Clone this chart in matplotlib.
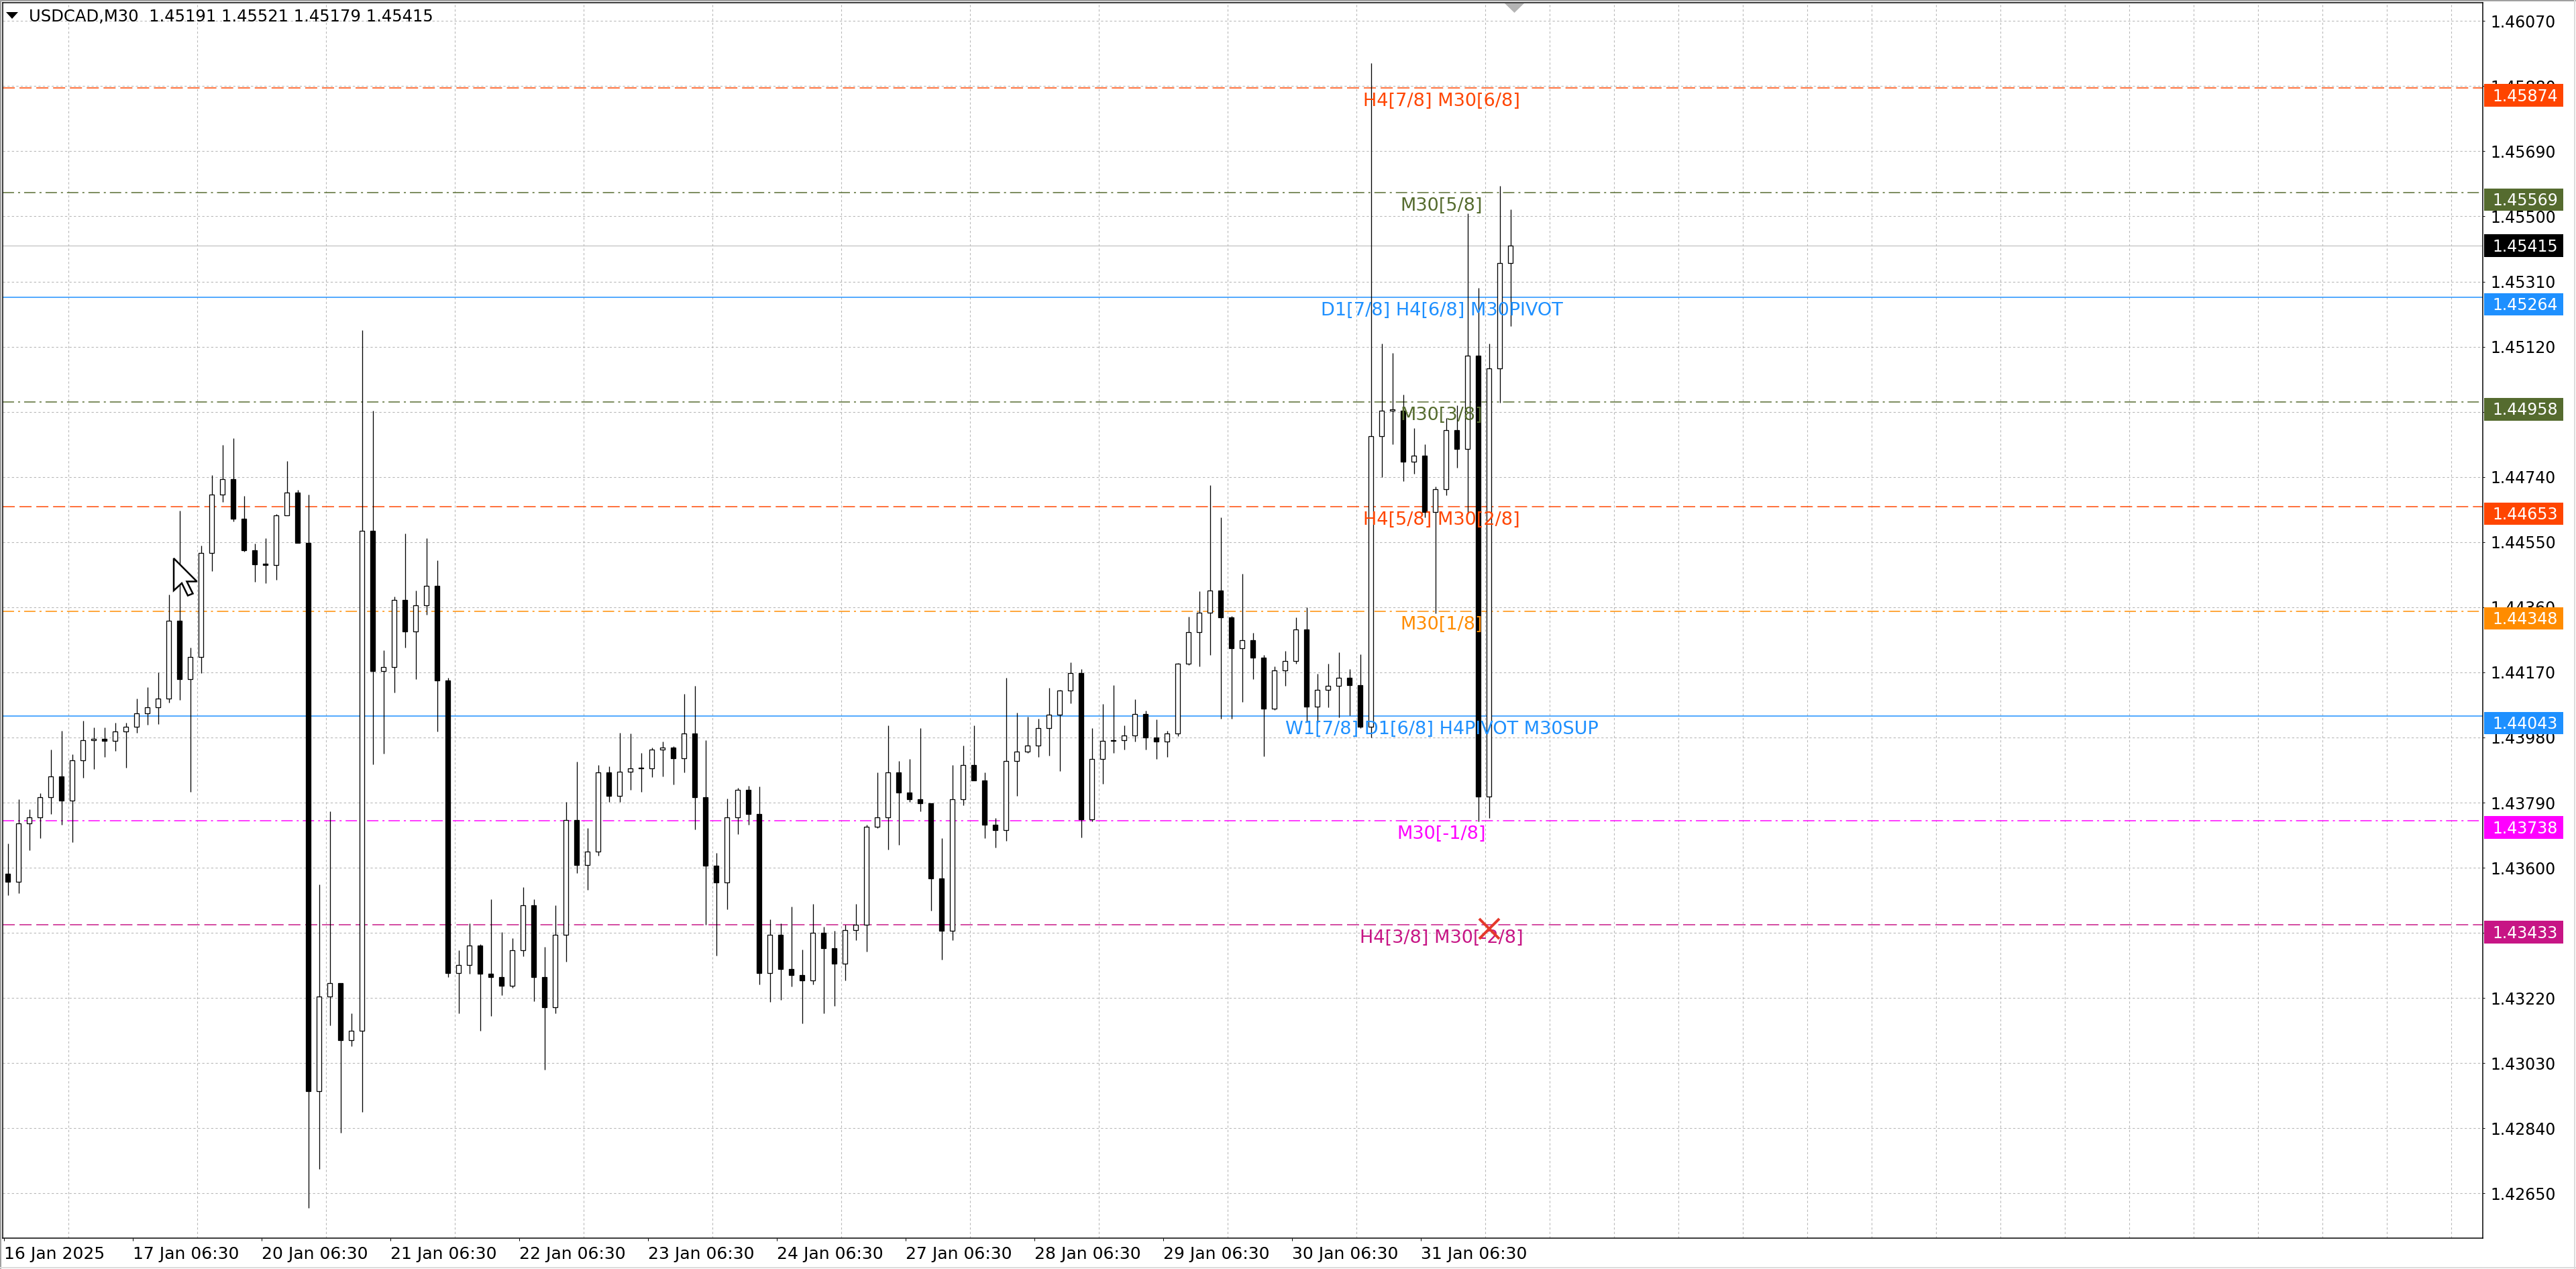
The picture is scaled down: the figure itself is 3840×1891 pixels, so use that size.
import matplotlib
matplotlib.use("Agg")
import matplotlib.pyplot as plt
import matplotlib.transforms as mtransforms
from matplotlib.patches import Rectangle, Polygon
from matplotlib.lines import Line2D

# =========================
# 1. ファイル設定
# =========================
output_file = "out.png"

plt.rcParams["font.family"] = ["DejaVu Sans"]

# =========================
# 2. データ（M30 足を 4 本ずつまとめた 2 時間足）
# =========================
symbol = "USDCAD,M30"
last_bar_ohlc = [1.45191, 1.45521, 1.45179, 1.45415]  # 最終足の O H L C
bid_price = 1.45415

first_open = 1.43583

highs = [
    1.43670, 1.43800, 1.43770, 1.43818, 1.43945, 1.43999, 1.43932, 1.44028, 1.44009, 1.44010,
    1.44024, 1.44024, 1.44094, 1.44126, 1.44170, 1.44396, 1.44641, 1.44243, 1.44540, 1.44746,
    1.44834, 1.44853, 1.44685, 1.44545, 1.44562, 1.44632, 1.44786, 1.44702, 1.44688, 1.43552,
    1.43765, 1.43264, 1.43176, 1.45169, 1.44933, 1.44234, 1.44391, 1.44575, 1.44409, 1.44561,
    1.44496, 1.44155, 1.43360, 1.43438, 1.43377, 1.43508, 1.43412, 1.43395, 1.43543, 1.43508,
    1.43369, 1.43491, 1.43793, 1.43909, 1.43715, 1.43900, 1.43895, 1.43994, 1.43991, 1.43934,
    1.43951, 1.43968, 1.43954, 1.44108, 1.44131, 1.43972, 1.43644, 1.43801, 1.43833, 1.43840,
    1.43838, 1.43450, 1.43437, 1.43486, 1.43361, 1.43495, 1.43428, 1.43417, 1.43434, 1.43495,
    1.43726, 1.43878, 1.44015, 1.43911, 1.43917, 1.44007, 1.43788, 1.43687, 1.43900, 1.43956,
    1.44015, 1.43878, 1.43745, 1.44155, 1.44052, 1.44041, 1.44035, 1.44125, 1.44119, 1.44200,
    1.44179, 1.44007, 1.44078, 1.44133, 1.44015, 1.44091, 1.44058, 1.44032, 1.43999, 1.44198,
    1.44333, 1.44406, 1.44716, 1.44622, 1.44335, 1.44457, 1.44285, 1.44220, 1.44188, 1.44233,
    1.44330, 1.44360, 1.44165, 1.44195, 1.44229, 1.44180, 1.44223, 1.45947, 1.45129, 1.45102,
    1.44981, 1.44883, 1.44836, 1.44713, 1.44912, 1.44948, 1.45509, 1.45292, 1.45129, 1.45590,
    1.45521,
]

lows = [
    1.43520, 1.43525, 1.43652, 1.43687, 1.43757, 1.43726, 1.43674, 1.43862, 1.43888, 1.43923,
    1.43941, 1.43892, 1.43993, 1.44018, 1.44019, 1.44081, 1.44090, 1.43822, 1.44168, 1.44466,
    1.44667, 1.44610, 1.44523, 1.44435, 1.44431, 1.44440, 1.44628, 1.44548, 1.42608, 1.42722,
    1.43141, 1.42827, 1.43080, 1.42888, 1.43902, 1.43933, 1.44111, 1.44243, 1.44150, 1.44339,
    1.43998, 1.43281, 1.43176, 1.43290, 1.43124, 1.43167, 1.43229, 1.43250, 1.43342, 1.43211,
    1.43011, 1.43176, 1.43327, 1.43585, 1.43535, 1.43636, 1.43793, 1.43793, 1.43827, 1.43821,
    1.43864, 1.43866, 1.43842, 1.43878, 1.43711, 1.43434, 1.43344, 1.43479, 1.43698, 1.43726,
    1.43259, 1.43209, 1.43214, 1.43254, 1.43147, 1.43259, 1.43175, 1.43197, 1.43271, 1.43389,
    1.43355, 1.43715, 1.43653, 1.43666, 1.43793, 1.43765, 1.43475, 1.43332, 1.43389, 1.43782,
    1.43855, 1.43687, 1.43658, 1.43678, 1.43810, 1.43934, 1.43923, 1.43928, 1.43883, 1.44080,
    1.43689, 1.43735, 1.43844, 1.43934, 1.43945, 1.43968, 1.43945, 1.43917, 1.43923, 1.43984,
    1.44192, 1.44187, 1.44221, 1.44034, 1.44034, 1.44083, 1.44150, 1.43925, 1.44060, 1.44131,
    1.44195, 1.44026, 1.44023, 1.44068, 1.44038, 1.44045, 1.44008, 1.43980, 1.44740, 1.44836,
    1.44727, 1.44749, 1.44622, 1.44342, 1.44686, 1.44767, 1.44631, 1.43736, 1.43745, 1.44957,
    1.45179,
]

closes = [
    1.43560, 1.43730, 1.43748, 1.43805, 1.43866, 1.43796, 1.43914, 1.43972, 1.43976, 1.43971,
    1.43997, 1.44012, 1.44050, 1.44068, 1.44094, 1.44321, 1.44151, 1.44214, 1.44518, 1.44689,
    1.44733, 1.44619, 1.44527, 1.44485, 1.44484, 1.44628, 1.44694, 1.44548, 1.42949, 1.43224,
    1.43264, 1.43098, 1.43124, 1.44583, 1.44173, 1.44185, 1.44382, 1.44290, 1.44365, 1.44423,
    1.44146, 1.43293, 1.43316, 1.43374, 1.43290, 1.43281, 1.43255, 1.43360, 1.43491, 1.43281,
    1.43194, 1.43404, 1.43740, 1.43608, 1.43647, 1.43878, 1.43810, 1.43880, 1.43889, 1.43889,
    1.43945, 1.43951, 1.43920, 1.43992, 1.43805, 1.43606, 1.43557, 1.43748, 1.43827, 1.43756,
    1.43293, 1.43405, 1.43304, 1.43287, 1.43271, 1.43411, 1.43366, 1.43321, 1.43419, 1.43434,
    1.43720, 1.43748, 1.43878, 1.43819, 1.43799, 1.43788, 1.43568, 1.43417, 1.43799, 1.43900,
    1.43855, 1.43726, 1.43709, 1.43911, 1.43939, 1.43956, 1.44007, 1.44046, 1.44117, 1.44167,
    1.43742, 1.43917, 1.43970, 1.43973, 1.43985, 1.44049, 1.43979, 1.43968, 1.43992, 1.44195,
    1.44288, 1.44344, 1.44409, 1.44330, 1.44240, 1.44263, 1.44212, 1.44064, 1.44176, 1.44203,
    1.44295, 1.44071, 1.44118, 1.44131, 1.44154, 1.44133, 1.44011, 1.44858, 1.44934, 1.44934,
    1.44785, 1.44803, 1.44637, 1.44704, 1.44876, 1.44821, 1.45093, 1.43808, 1.45057, 1.45364,
    1.45415,
]

# 時間軸ラベル（M30 足の番号）
x_tick_bars = [0, 48, 96, 144, 192, 240, 288, 336, 384, 432, 480, 528]
x_tick_labels = [
    "16 Jan 2025", "17 Jan 06:30", "20 Jan 06:30", "21 Jan 06:30",
    "22 Jan 06:30", "23 Jan 06:30", "24 Jan 06:30", "27 Jan 06:30",
    "28 Jan 06:30", "29 Jan 06:30", "30 Jan 06:30", "31 Jan 06:30",
]

y_ticks = [
    1.42650, 1.42840, 1.43030, 1.43220, 1.43410, 1.43600, 1.43790,
    1.43980, 1.44170, 1.44360, 1.44550, 1.44740, 1.44930, 1.45120,
    1.45310, 1.45500, 1.45690, 1.45880, 1.46070,
]

# Murrey 系のレベル
level_prices = [1.45874, 1.45569, 1.45264, 1.44958, 1.44653,
                1.44348, 1.44043, 1.43738, 1.43433]
level_names = [
    "H4[7/8] M30[6/8]", "M30[5/8]", "D1[7/8] H4[6/8] M30PIVOT",
    "M30[3/8]", "H4[5/8] M30[2/8]", "M30[1/8]",
    "W1[7/8] D1[6/8] H4PIVOT M30SUP", "M30[-1/8]", "H4[3/8] M30[-2/8]",
]
level_colors = ["#FF4500", "#556B2F", "#1E90FF", "#556B2F", "#FF4500",
                "#FF8C00", "#1E90FF", "#FF00FF", "#C71585"]
level_kinds = ["dash", "dashdot", "solid", "dashdot", "dash",
               "dashdot", "solid", "dashdot", "dash"]

# =========================
# 3. レイアウト（ピクセル基準）
# =========================
W, H = 3840, 1891
DPI = 100
PX = 72 / DPI            # 1px をポイントに変換

ax_l, ax_r, ax_t, ax_b = 4, 3701, 4, 1845
price_per_px = 1.9575e-5  # 縦 1px あたりの価格
ref_price, ref_y = 1.46070, 31.3
bar_px, bar0_px = 4.0, 5.7
bars_per_block = 4

y_top = ref_price + (ref_y - ax_t) * price_per_px
y_bottom = ref_price - (ax_b - ref_y) * price_per_px
x_left = (ax_l - bar0_px) / bar_px
x_right = (ax_r - bar0_px) / bar_px

fig = plt.figure(figsize=(W / DPI, H / DPI), dpi=DPI, facecolor="white")
ax = fig.add_axes([ax_l / W, 1 - ax_b / H, (ax_r - ax_l) / W, (ax_b - ax_t) / H])
ax.set_xlim(x_left, x_right)
ax.set_ylim(y_bottom, y_top)

# =========================
# 4. グリッドと軸
# =========================
grid_style = dict(color="#B8B8B8", linestyle=(0, (3, 3)), linewidth=1.1 * PX)
ax.set_axisbelow(True)
ax.set_yticks(y_ticks)
ax.set_yticklabels([f"{t:.5f}" for t in y_ticks])
ax.yaxis.tick_right()
ax.set_xticks(x_tick_bars)
ax.set_xticklabels(x_tick_labels)
for lab in ax.get_xticklabels():
    lab.set_horizontalalignment("left")
ax.set_xticks(list(range(0, 913, 24)), minor=True)
ax.grid(which="major", axis="y", **grid_style)
ax.grid(which="minor", axis="x", **grid_style)

ax.tick_params(axis="y", which="major", length=3 * PX, width=1 * PX,
               pad=8 * PX, labelsize=17, colors="black")
ax.tick_params(axis="x", which="major", length=4 * PX, width=1 * PX,
               pad=8 * PX, labelsize=18, colors="black")
ax.tick_params(axis="x", which="minor", length=0)
for s in ax.spines.values():
    s.set_color("black")
    s.set_linewidth(1.5 * PX)

# =========================
# 5. レベルライン
# =========================
line_dashes = {
    "dash": (0, (12, 4.7)),
    "dashdot": (0, (11.3, 4, 2, 4)),
    "solid": "-",
}
for p, c, kind in zip(level_prices, level_colors, level_kinds):
    ax.axhline(p, color=c, linestyle=line_dashes[kind], linewidth=1.5 * PX, zorder=2)

ax.axhline(bid_price, color="#C0C0C0", linewidth=1.2 * PX, zorder=1.8)

# =========================
# 6. ローソク足
# =========================
opens = [first_open] + closes[:-1]
centers = [k * bars_per_block + 1.5 for k in range(len(closes))]
bottoms = [min(o, c) for o, c in zip(opens, closes)]
heights = [max(abs(c - o), 1.5 * price_per_px) for o, c in zip(opens, closes)]
faces = ["white" if c >= o else "black" for o, c in zip(opens, closes)]

ax.vlines(centers, lows, highs, color="black", linewidth=1.3 * PX, zorder=3)
ax.bar(centers, heights, width=1.8, bottom=bottoms, color=faces,
       edgecolor="black", linewidth=1.3 * PX, zorder=4)

# レベル名
label_bar = 535.8
for p, c, name in zip(level_prices, level_colors, level_names):
    ax.text(label_bar, p - 7 * price_per_px, name, color=c, fontsize=19.5,
            ha="center", va="top", zorder=6)

# 赤い × 印
ax.plot([553.6], [1.43422], marker="x", markersize=30 * PX,
        markeredgewidth=4 * PX, color="#E5392C", zorder=7)

# =========================
# 7. 右側の価格ラベル
# =========================
trans = mtransforms.blended_transform_factory(fig.transFigure, ax.transData)
box_x0, box_w = 3703 / W, (3821 - 3703) / W
box_h = 33.5 * price_per_px
cap_half = 8.6 * price_per_px

box_prices = level_prices + [bid_price]
box_colors = level_colors + ["black"]
box_shift = [10.5] * len(level_prices) + [0.0]
for p, c, sh in zip(box_prices, box_colors, box_shift):
    yc = p - sh * price_per_px
    ax.add_patch(Rectangle((box_x0, yc - box_h / 2), box_w, box_h, transform=trans,
                           facecolor=c, edgecolor="none", clip_on=False, zorder=8))
    ax.text(3715 / W, yc - cap_half, f"{p:.5f}", transform=trans, color="white",
            fontsize=17, ha="left", va="baseline", clip_on=False, zorder=9)

# =========================
# 8. タイトル・飾り
# =========================
def fx(px):
    return px / W


def fy(py):
    return 1 - py / H


title = f"{symbol}  " + " ".join(f"{v:.5f}" for v in last_bar_ohlc)
fig.text(fx(43), fy(25), title, fontsize=17.5, ha="left", va="center", color="black")
fig.patches.append(Polygon([(fx(9), fy(18)), (fx(27), fy(18)), (fx(18), fy(28))],
                           closed=True, transform=fig.transFigure,
                           facecolor="black", edgecolor="none"))

# チャートシフトの三角
fig.patches.append(Polygon([(fx(2243), fy(5)), (fx(2272), fy(5)), (fx(2257.5), fy(19))],
                           closed=True, transform=fig.transFigure,
                           facecolor="#B4B4B4", edgecolor="none"))

# マウスカーソル
cursor_pts = [(259, 832), (259, 880), (271, 869), (280, 887.5),
              (287.5, 884.5), (278.5, 866.5), (293.5, 866.5)]
fig.patches.append(Polygon([(fx(x), fy(y)) for x, y in cursor_pts], closed=True,
                           transform=fig.transFigure, facecolor="white",
                           edgecolor="black", linewidth=2.5 * PX, zorder=10))

# ウィンドウ枠
fig.add_artist(Line2D([0, 1], [fy(1), fy(1)], color="#A0A0A0", linewidth=2 * PX))
fig.add_artist(Line2D([fx(1), fx(1)], [0, 1], color="#A0A0A0", linewidth=2 * PX))
fig.add_artist(Line2D([fx(3838), fx(3838)], [0, 1], color="#DCDCDC", linewidth=2 * PX))
fig.add_artist(Line2D([0, 1], [fy(1889), fy(1889)], color="#DCDCDC", linewidth=2 * PX))

fig.savefig(output_file, dpi=DPI, facecolor="white")
print(f"保存しました: {output_file}")
